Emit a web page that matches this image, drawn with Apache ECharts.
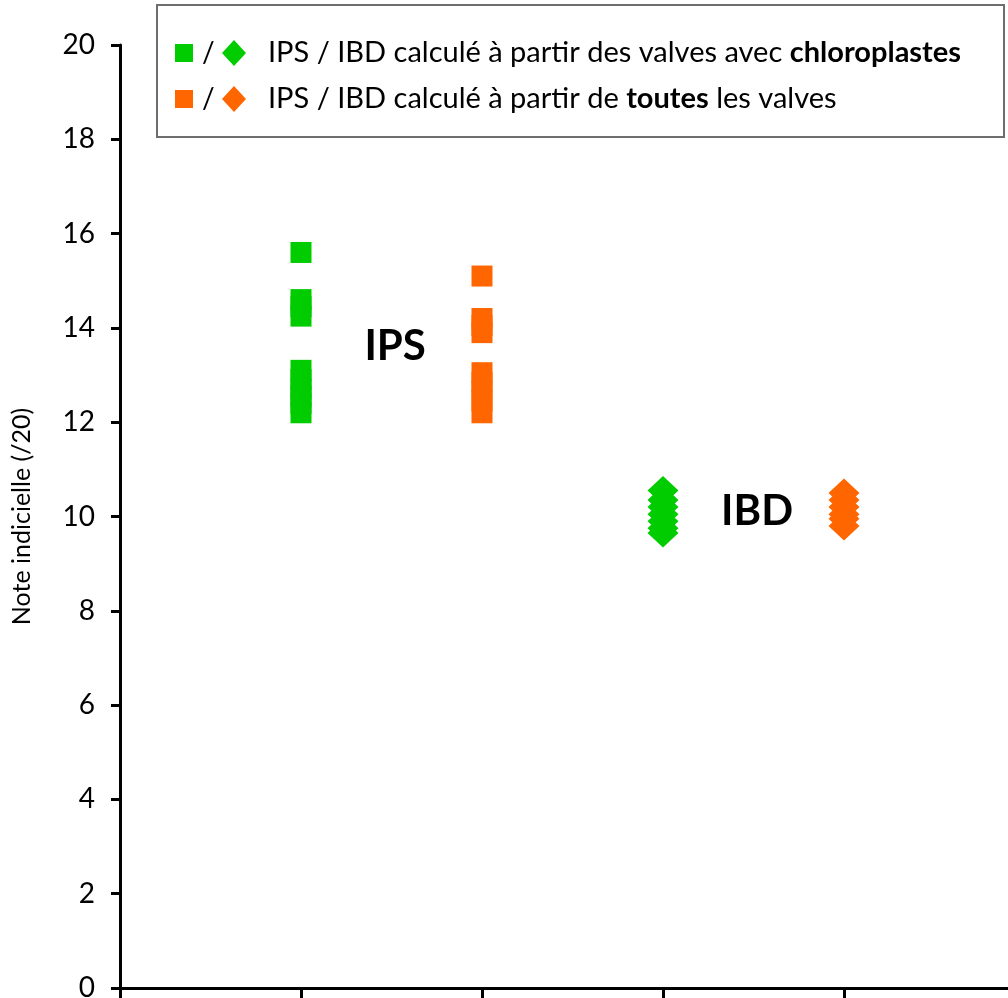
<!DOCTYPE html>
<html><head><meta charset="utf-8">
<script src="https://cdn.jsdelivr.net/npm/echarts@6/dist/echarts.min.js"></script>
<style>html,body{margin:0;padding:0;background:#fff}#c{width:1008px;height:998px}</style>
</head><body><div id="c"></div>
<script>
const yTicks = [0, 2, 4, 6, 8, 10, 12, 14, 16, 18, 20];
const positions = { ipsGreen: 1, ipsOrange: 2, ibdGreen: 3, ibdOrange: 4 };
const ipsChloro = [15.6, 14.6, 14.45, 14.25, 13.1, 12.9, 12.7, 12.55, 12.4, 12.2];
const ipsAll = [15.1, 14.2, 14.05, 13.9, 13.05, 12.85, 12.65, 12.45, 12.2];
const ibdChloro = [10.55, 10.35, 10.2, 10.05, 9.9, 9.75, 9.65];
const ibdAll = [10.5, 10.35, 10.2, 10.05, 9.95, 9.8];
const legendLabels = [
  ['IPS / IBD calculé à partir des valves avec ', 'chloroplastes', ''],
  ['IPS / IBD calculé à partir de ', 'toutes', ' les valves']
];
const groupLabels = [{ text: 'IPS', x: 1.52, y: 13.6 }, { text: 'IBD', x: 3.52, y: 10.1 }];
const yAxisTitle = 'Note indicielle (/20)';

const GREEN = '#00cc00', ORANGE = '#ff6600';
const FONT = 'Lato';
const toPts = (x, arr) => arr.map(v => [x, v]);

const chart = echarts.init(document.getElementById('c'), null, { renderer: 'canvas' });
const legendRich = {
  n: { fontFamily: FONT, fontSize: 29, color: '#000' },
  b: { fontFamily: FONT, fontSize: 29, color: '#000', fontWeight: 'bold' }
};
const legendText = l => '{n|' + l[0] + '}{b|' + l[1] + '}' + (l[2] ? '{n|' + l[2] + '}' : '');

chart.setOption({
  animation: false,
  backgroundColor: '#fff',
  grid: { left: 120, width: 905, top: 45, height: 943, containLabel: false, outerBoundsMode: 'none' },
  xAxis: {
    type: 'value', min: 0, max: 5, interval: 1,
    axisLine: { show: true, onZero: false, lineStyle: { color: '#000', width: 3 } },
    axisTick: { show: true, inside: false, length: 10, lineStyle: { color: '#000', width: 3 } },
    axisLabel: { show: false },
    splitLine: { show: false }
  },
  yAxis: {
    type: 'value', min: 0, max: 20, interval: 2,
    name: yAxisTitle, nameLocation: 'middle', nameGap: 86, nameRotate: 90,
    nameTextStyle: { fontFamily: FONT, fontSize: 25, color: '#000' },
    axisLine: { show: true, lineStyle: { color: '#000', width: 3 } },
    axisTick: { show: true, inside: false, length: 9, lineStyle: { color: '#000', width: 3 } },
    axisLabel: { fontFamily: FONT, fontSize: 28, color: '#000', margin: 25,
      formatter: v => yTicks.includes(v) ? String(v) : '' },
    splitLine: { show: false }
  },
  series: [
    { type: 'scatter', data: toPts(positions.ipsGreen, ipsChloro), symbol: 'rect', symbolSize: [21, 21],
      itemStyle: { color: GREEN, opacity: 1 }, z: 3 },
    { type: 'scatter', data: toPts(positions.ipsOrange, ipsAll), symbol: 'rect', symbolSize: [21, 21],
      itemStyle: { color: ORANGE, opacity: 1 }, z: 3 },
    { type: 'scatter', data: toPts(positions.ibdGreen, ibdChloro), symbol: 'diamond', symbolSize: [31, 29],
      itemStyle: { color: GREEN, opacity: 1 }, z: 3 },
    { type: 'scatter', data: toPts(positions.ibdOrange, ibdAll), symbol: 'diamond', symbolSize: [31, 29],
      itemStyle: { color: ORANGE, opacity: 1 }, z: 3 },
    { type: 'scatter', symbolSize: 0, silent: true,
      itemStyle: { opacity: 1 },
      data: groupLabels.map(g => ({ value: [g.x, g.y], name: g.text })),
      label: { show: true, position: 'inside', formatter: p => p.name,
        fontFamily: FONT, fontSize: 42, fontWeight: 'bold', color: '#000' } }
  ],
  graphic: [
    { type: 'rect', shape: { x: 157, y: 5, width: 847, height: 132 },
      style: { fill: '#fff', stroke: '#6e6e6e', lineWidth: 2 }, z: 10 },
    { type: 'rect', shape: { x: 175, y: 44, width: 18, height: 18 }, style: { fill: GREEN }, z: 11 },
    { type: 'text', x: 202, y: 53, style: { text: '/', fontFamily: FONT, fontSize: 28, fill: '#000', verticalAlign: 'middle' }, z: 11 },
    { type: 'polygon', shape: { points: [[234, 40], [246, 53], [234, 66], [222, 53]] }, style: { fill: GREEN }, z: 11 },
    { type: 'text', x: 268, y: 53, style: { text: legendText(legendLabels[0]), rich: legendRich, verticalAlign: 'middle' }, z: 11 },
    { type: 'rect', shape: { x: 175, y: 90, width: 18, height: 18 }, style: { fill: ORANGE }, z: 11 },
    { type: 'text', x: 202, y: 99, style: { text: '/', fontFamily: FONT, fontSize: 28, fill: '#000', verticalAlign: 'middle' }, z: 11 },
    { type: 'polygon', shape: { points: [[234, 86], [246, 99], [234, 112], [222, 99]] }, style: { fill: ORANGE }, z: 11 },
    { type: 'text', x: 268, y: 99, style: { text: legendText(legendLabels[1]), rich: legendRich, verticalAlign: 'middle' }, z: 11 }
  ]
});
</script>
</body></html>
